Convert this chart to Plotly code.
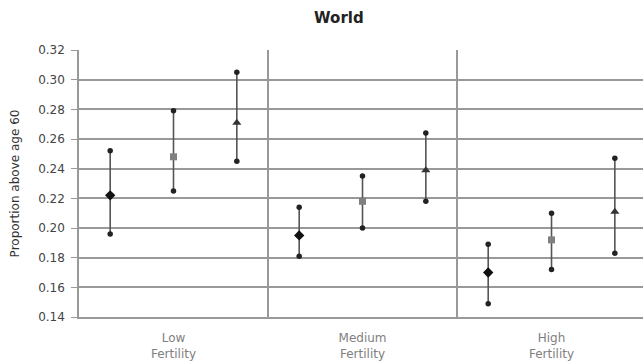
import plotly.graph_objects as go

categories = ["Low<br>Fertility", "Medium<br>Fertility", "High<br>Fertility"]
series_names = ["Series A", "Series B", "Series C"]
mean_vals = [
    [0.222, 0.195, 0.170],
    [0.248, 0.218, 0.192],
    [0.271, 0.239, 0.211],
]
upper_vals = [
    [0.252, 0.214, 0.189],
    [0.279, 0.235, 0.210],
    [0.305, 0.264, 0.247],
]
lower_vals = [
    [0.196, 0.181, 0.149],
    [0.225, 0.200, 0.172],
    [0.245, 0.218, 0.183],
]
offsets = [-0.335, 0.0, 0.335]
symbols = ["diamond", "square", "triangle-up"]
mean_colors = ["#111111", "#808080", "#333333"]
mean_sizes = [8, 7, 8]

fig = go.Figure()
cat_pos = [1, 2, 3]
for s in range(3):
    xs = [c + offsets[s] for c in cat_pos]
    m = mean_vals[s]
    up = upper_vals[s]
    lo = lower_vals[s]
    fig.add_trace(go.Scatter(
        x=xs, y=m, mode="markers",
        marker=dict(size=1, color="rgba(0,0,0,0)"),
        error_y=dict(type="data", symmetric=False,
                     array=[u - v for u, v in zip(up, m)],
                     arrayminus=[v - l for v, l in zip(m, lo)],
                     width=0, thickness=1.6, color="#555555"),
        showlegend=False, hoverinfo="skip"))
    fig.add_trace(go.Scatter(
        x=xs + xs, y=up + lo, mode="markers",
        marker=dict(symbol="circle", size=5.5, color="#222222"),
        showlegend=False))
    fig.add_trace(go.Scatter(
        x=xs, y=m, mode="markers", name=series_names[s],
        marker=dict(symbol=symbols[s], size=mean_sizes[s], color=mean_colors[s]),
        showlegend=False))

fig.update_layout(
    width=643, height=361,
    margin=dict(l=79, r=0, t=50, b=44),
    paper_bgcolor="white", plot_bgcolor="white",
    font=dict(family="DejaVu Sans, Verdana, sans-serif", color="#333333"),
    title=dict(text="<b>World</b>", x=0.527, xanchor="center", y=0.952, yanchor="middle",
               font=dict(size=15, color="#222222")),
    xaxis=dict(range=[0.5, 3.484], tickmode="array", tickvals=cat_pos, ticktext=categories,
               showgrid=False, zeroline=False, showline=True, linecolor="#999999", linewidth=1.5,
               ticks="", ticklabelstandoff=9,
               tickfont=dict(size=12, color="#808080"),
               minor=dict(tickmode="array", tickvals=[1.5, 2.5], showgrid=True,
                          gridcolor="#999999", gridwidth=1.5, ticks="")),
    yaxis=dict(range=[0.14, 0.32], tick0=0.14, dtick=0.02, tickformat=".2f",
               showgrid=True, gridcolor="#999999", gridwidth=1.5, zeroline=False,
               showline=True, linecolor="#999999", linewidth=1.5,
               ticks="outside", ticklen=6, tickcolor="#999999", tickwidth=1.2,
               ticklabelstandoff=4,
               tickfont=dict(size=12, color="#444444"),
               title=dict(text="Proportion above age 60", font=dict(size=12, color="#333333"),
                          standoff=16)),
)
fig.write_html("out.html")
